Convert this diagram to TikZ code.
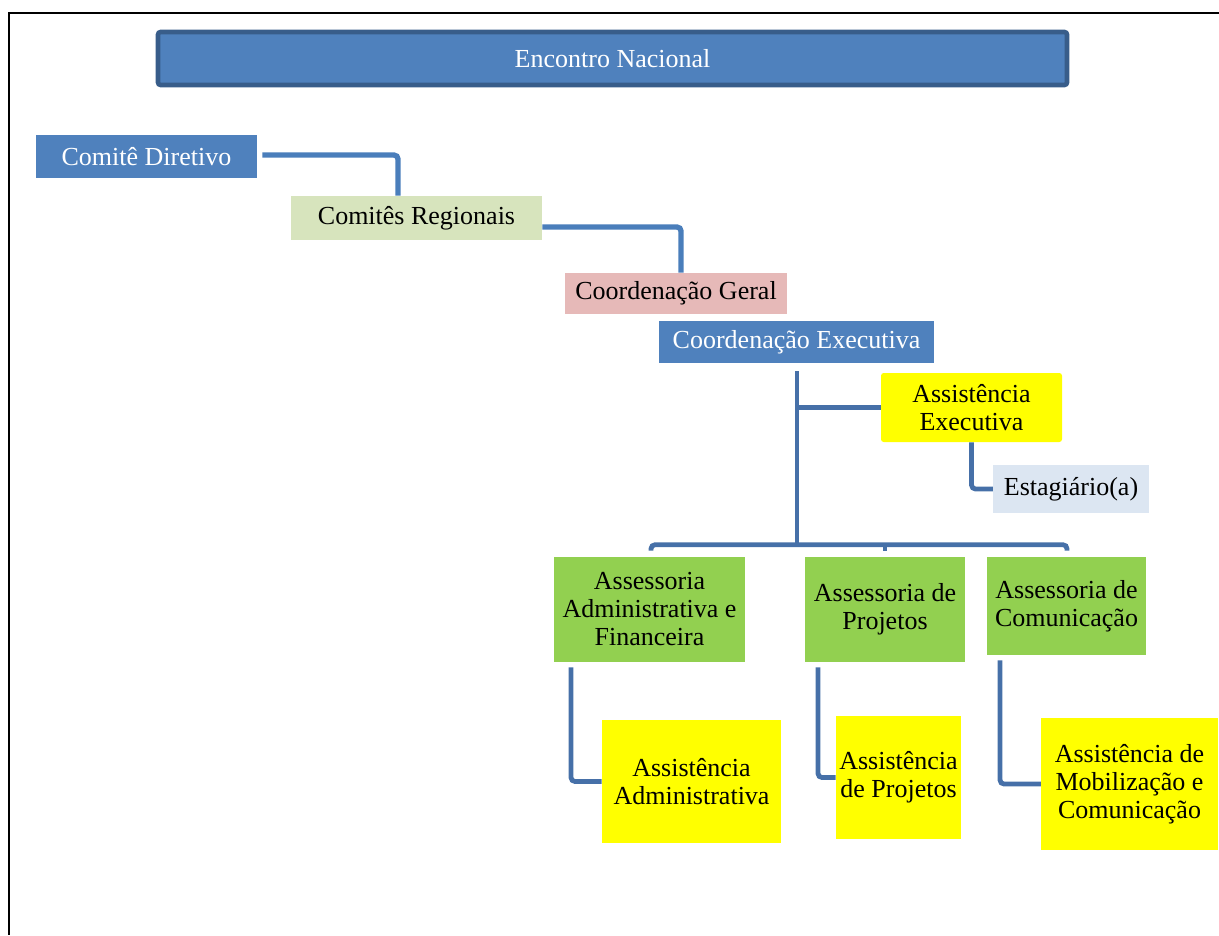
\documentclass[tikz,border=0pt]{standalone}
\usepackage{fontspec}
\setmainfont{Liberation Serif}
\usetikzlibrary{calc}
\definecolor{bblue}{HTML}{4F81BD}
\definecolor{bborder}{HTML}{385D8A}
\definecolor{lgreen}{HTML}{D7E4BD}
\definecolor{lpink}{HTML}{E6B9B8}
\definecolor{lblue}{HTML}{DCE6F2}
\definecolor{mgreen}{HTML}{92D050}
\definecolor{ylw}{HTML}{FFFF00}
\definecolor{lineA}{HTML}{4A7EBB}
\definecolor{lineB}{HTML}{4670A8}
\tikzset{
  bx/.style={rectangle, inner sep=0pt, align=center, font=\fontsize{19.5}{21}\selectfont},
  bluebox/.style={bx, fill=bblue, text=white},
  ylwbox/.style={bx, fill=ylw, text=black},
  grnbox/.style={bx, fill=mgreen, text=black},
  connA/.style={draw=lineA, line width=4pt, rounded corners=3pt},
  connB/.style={draw=lineB, line width=3.6pt, rounded corners=3pt},
}
\begin{document}
\begin{tikzpicture}[x=0.75pt,y=-0.75pt]
\useasboundingbox (0,0) rectangle (1219,935);
% frame
\draw[black, line width=1.6pt] (1219,13) -- (9,13) -- (9,935);

% nodes
\node[bluebox, draw=bborder, line width=3.5pt, rounded corners=2pt,
  minimum width=909*0.75pt, minimum height=53*0.75pt] (enc) at (612.5,58.5) {Encontro Nacional};
\node[bluebox, minimum width=221*0.75pt, minimum height=43*0.75pt] (cd) at (146.5,156.5) {Comitê Diretivo};
\node[bx, fill=lgreen, minimum width=251*0.75pt, minimum height=44*0.75pt] (cr) at (416.5,218) {Comitês Regionais};
\node[bx, fill=lpink, minimum width=222*0.75pt, minimum height=41*0.75pt] (cg) at (676,293.5) {Coordenação Geral};
\node[bluebox, minimum width=275*0.75pt, minimum height=42*0.75pt] (ce) at (796.5,342) {Coordenação Executiva};
\node[ylwbox, rounded corners=2pt, minimum width=181*0.75pt, minimum height=69*0.75pt] (ae) at (971.5,407.5) {Assistência\\Executiva};
\node[bx, fill=lblue, minimum width=156*0.75pt, minimum height=48*0.75pt] (est) at (1071,489) {Estagiário(a)};
\node[grnbox, minimum width=191*0.75pt, minimum height=105*0.75pt] (aaf) at (649.5,609.5) {Assessoria\\Administrativa e\\Financeira};
\node[grnbox, minimum width=160*0.75pt, minimum height=105*0.75pt] (ap) at (885,609.5) {Assessoria de\\Projetos};
\node[grnbox, minimum width=159*0.75pt, minimum height=98*0.75pt] (ac) at (1066.5,606) {Assessoria de\\Comunicação};
\node[ylwbox, minimum width=179*0.75pt, minimum height=123*0.75pt] (sa) at (691.5,781.5) {Assistência\\Administrativa};
\node[ylwbox, minimum width=125*0.75pt, minimum height=123*0.75pt] (sp) at (898.5,777.5) {Assistência\\de Projetos};
\node[ylwbox, minimum width=177*0.75pt, minimum height=132*0.75pt] (sm) at (1129.5,784) {Assistência de\\Mobilização e\\Comunicação};

\coordinate (hub) at ($(ce.south)+(0.5,182)$);

% connectors
\draw[connA] ($(cd.east)+(5,-1.5)$) -| ($(cr.north)+(-18.5,0)$);
\draw[connA] ($(cr.east)+(0,9)$) -| ($(cg.north)+(5,0)$);
\draw[connB] ($(ce.south)+(0.5,8)$) -- (hub);
\draw[connB] (ae.west -| hub) -- (ae.west);
\draw[connB] ($(aaf.north)+(1.5,-6)$) |- ($(ac.north)+(0.5,-12)$) -- ($(ac.north)+(0.5,-6)$);
\draw[connB] ($(ap.north)+(0,-12)$) -- ($(ap.north)+(0,-6)$);
\draw[connB] (ae.south) |- (est.west);
\draw[connB] ($(aaf.south)+(-78.5,5)$) |- (sa.west);
\draw[connB] ($(ap.south)+(-67,5)$) |- (sp.west);
\draw[connB] ($(ac.south)+(-66.5,5)$) |- (sm.west);
\end{tikzpicture}
\end{document}
